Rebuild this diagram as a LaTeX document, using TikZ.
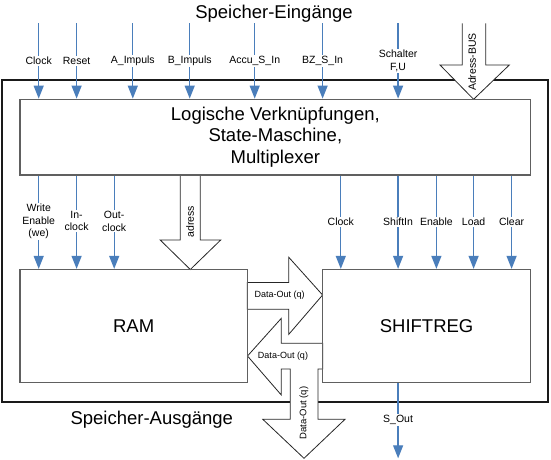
\documentclass[tikz,border=0pt]{standalone}
\usepackage{fontspec}
\setmainfont{Liberation Sans}
\usetikzlibrary{arrows.meta}
\definecolor{sigblue}{HTML}{4A7EBB}
\definecolor{boxgray}{HTML}{606060}
\definecolor{framecol}{HTML}{1A1A1A}
\begin{document}
\begin{tikzpicture}[x=1pt,y=-1pt,
  sig/.style={draw=sigblue,line width=1.3pt,-{Triangle[length=13pt,width=10pt]}},
  lbl/.style={fill=white,inner sep=1pt,font=\fontsize{10.5}{12.8}\selectfont,align=center},
  big/.style={font=\fontsize{18.5}{21.7}\selectfont,align=center},
  boxx/.style={draw=boxgray,line width=1.3pt,inner sep=0pt},
  blk/.style={draw=black!85,line width=0.8pt,fill=white,line join=miter},
  dlbl/.style={font=\fontsize{9}{10}\selectfont,inner sep=0pt}]
\useasboundingbox (0,0) rectangle (551,459);
% outer frame
\node[draw=framecol,line width=2pt,minimum width=546pt,minimum height=321.7pt,inner sep=0pt] (frame) at (275.2,240.85) {};
% titles
\node[big] (tin) at (274,13.3) {Speicher-Eingänge};
\node[big] (tout) at (151.8,420) {Speicher-Ausgänge};
% block arrows
\draw[blk] (462.3,23.3) -- (462.3,65) -- (440,65) -- (473.6,99.3) -- (509.3,65) -- (485.7,65) -- (485.7,23.3);
\node[dlbl,font=\fontsize{10.5}{12}\selectfont,rotate=90] (abus) at (472,62) {Adress-BUS};
\draw[blk] (180.3,175) -- (180.3,240) -- (160.2,240) -- (190.3,269.5) -- (220.7,240) -- (200.3,240) -- (200.3,175);
\node[dlbl,font=\fontsize{10.5}{12}\selectfont,rotate=90] (adr) at (190,221.5) {adress};
\draw[blk] (247.3,282.5) -- (288.8,282.5) -- (288.8,257.3) -- (322.6,295) -- (288.8,334.3) -- (288.8,309.3) -- (247.3,309.3) -- cycle;
\node[dlbl] (dq1) at (279.6,295) {Data-Out (q)};
\draw[blk] (247.5,356) -- (281.3,318.3) -- (281.3,343.3) -- (322.6,343.3) -- (322.6,369) -- (318,369) -- (318,419.3) -- (345,419.3) -- (304,458.3) -- (262.8,419.3) -- (290.2,419.3) -- (290.2,369) -- (281.3,369) -- (281.3,395) -- cycle;
\node[dlbl] (dq2) at (283,356) {Data-Out (q)};
\node[dlbl,font=\fontsize{9.5}{10}\selectfont,rotate=90] (dq3) at (304,413) {Data-Out (q)};
% boxes
\node[boxx,minimum width=510.7pt,minimum height=75.7pt,big] (logic) at (275.35,137.15) {Logische Verknüpfungen,\\State-Maschine,\\Multiplexer};
\node[boxx,minimum width=227.3pt,minimum height=113.2pt,big] (ram) at (133.65,326.1) {RAM};
\node[boxx,minimum width=208pt,minimum height=113.2pt,big] (sr) at (426.6,326.1) {SHIFTREG};
% input signals
\foreach \x/\n in {38.7/i1,76.6/i2,132.8/i3,189.7/i4,254.7/i5,322.6/i6,398.1/i7}{
  \coordinate (\n) at (\x,23.3);
  \draw[sig] (\n) -- (\n |- logic.north);
}
\node[lbl] (l1) at (38.7,61) {Clock};
\node[lbl] (l2) at (76.6,61) {Reset};
\node[lbl] (l3) at (132.8,61) {A\_Impuls};
\node[lbl] (l4) at (189.7,61) {B\_Impuls};
\node[lbl] (l5) at (254.7,61) {Accu\_S\_In};
\node[lbl] (l6) at (322.6,61) {BZ\_S\_In};
\node[lbl] (l7) at (398.1,61) {Schalter\\F,U};
% RAM signals
\foreach \x/\n in {38.7/r1,76.6/r2,114.2/r3}{
  \coordinate (\n) at (\x,175);
  \draw[sig] (\n |- logic.south) -- (\n |- ram.north);
}
\node[lbl] (m1) at (38.7,221.3) {Write\\Enable\\(we)};
\node[lbl] (m2) at (76.6,221) {In-\\clock};
\node[lbl] (m3) at (114.2,221) {Out-\\clock};
% SHIFTREG signals
\foreach \x/\n in {340.8/s1,398.1/s2,436.4/s3,473.6/s4,511.6/s5}{
  \coordinate (\n) at (\x,175);
  \draw[sig] (\n |- logic.south) -- (\n |- sr.north);
}
\node[lbl] (n1) at (340.8,221.7) {Clock};
\node[lbl] (n2) at (398.1,221.7) {ShiftIn};
\node[lbl] (n3) at (436.4,221.7) {Enable};
\node[lbl] (n4) at (473.6,221.7) {Load};
\node[lbl] (n5) at (511.6,221.7) {Clear};
% output
\coordinate (so) at (398.1,458.3);
\draw[sig] (so |- sr.south) -- (so);
\node[lbl] (lo) at (398.1,420) {S\_Out};
\end{tikzpicture}
\end{document}
